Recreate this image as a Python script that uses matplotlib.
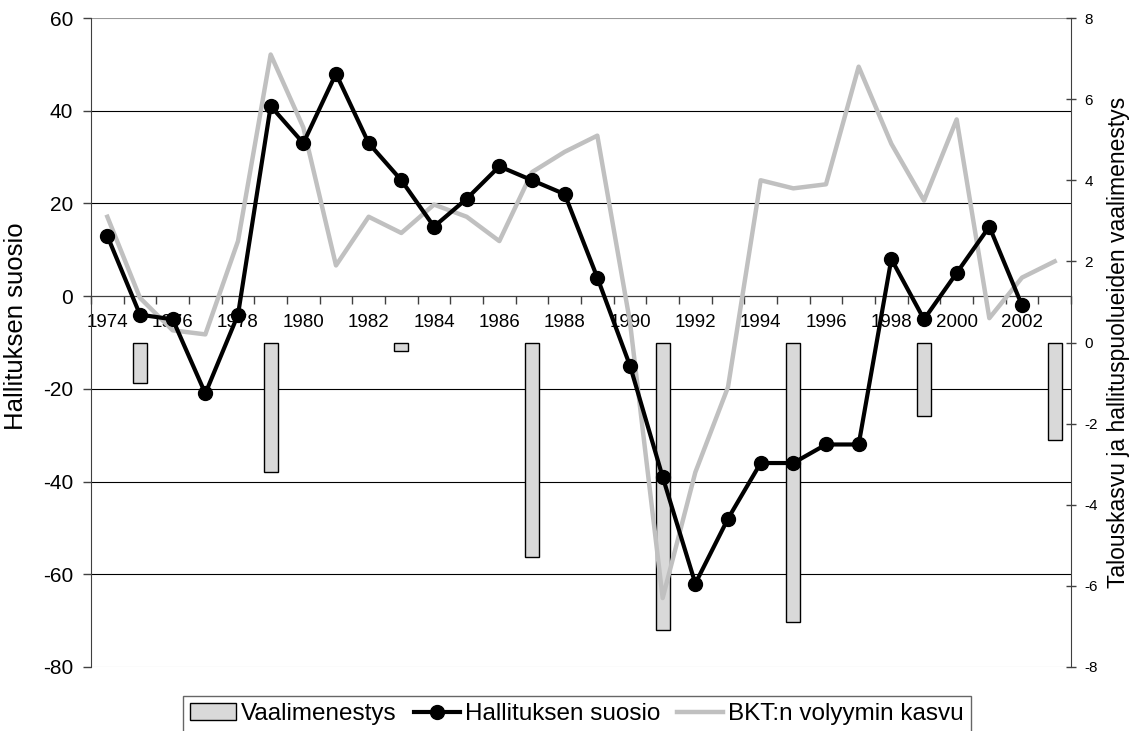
"""Hallituksen suosio, BKT:n kasvu ja hallituspuolueiden vaalimenestys 1974-2003."""

import numpy as np
import matplotlib
matplotlib.use("Agg")
import matplotlib.pyplot as plt
from matplotlib.patches import Patch
from matplotlib.lines import Line2D

plt.rcParams['font.family'] = ['Liberation Sans', 'DejaVu Sans']
plt.rcParams['axes.unicode_minus'] = False

# data
years = list(range(1974, 2004))
suosio_years = list(range(1974, 2003))
suosio = [13, -4, -5, -21, -4, 41, 33, 48, 33, 25, 15, 21, 28, 25, 22, 4,
          -15, -39, -62, -48, -36, -36, -32, -32, 8, -5, 5, 15, -2]
bkt = [3.1, 1.1, 0.3, 0.2, 2.5, 7.1, 5.3, 1.9, 3.1, 2.7, 3.4, 3.1, 2.5, 4.2,
       4.7, 5.1, 0.5, -6.3, -3.2, -1.1, 4.0, 3.8, 3.9, 6.8, 4.9, 3.5, 5.5,
       0.6, 1.6, 2.0]
vaali_years = [1975, 1979, 1983, 1987, 1991, 1995, 1999, 2003]
vaali = [-1.0, -3.2, -0.2, -5.3, -7.1, -6.9, -1.8, -2.4]
year_labels = list(range(1974, 2003, 2))

W, H = 1138, 731
fig = plt.figure(figsize=(W / 100, H / 100), dpi=100)
ax = fig.add_axes([91 / W, 1 - 667 / H, 980 / W, 649 / H])   # grid + left scale
ax2 = ax.twinx()                                              # bars + gray line
ax3 = ax.twinx()                                              # black line on top

# --- base axes: grid, x axis at 0, left ticks
ax.set_xlim(1973.5, 2003.5)
ax.set_ylim(-80, 60)
ax.set_yticks(np.arange(-80, 61, 20))
ax.tick_params(axis='y', direction='out', length=6, width=1, color='#404040',
               labelsize=15, pad=7)
ax.yaxis.grid(True, color='black', linewidth=0.8)
gl = ax.get_ygridlines()
gl[0].set_color('#c0c0c0')
gl[-1].set_color('#999999')
ax.set_axisbelow(True)

ax.set_xticks(np.arange(1973.5, 2004, 1))
ax.set_xticklabels([])
ax.set_xticks(year_labels, minor=True)
ax.set_xticklabels([str(y) for y in year_labels], minor=True)
ax.tick_params(axis='x', which='major', direction='out', length=6, width=1,
               color='#404040')
ax.tick_params(axis='x', which='minor', length=0, labelsize=13.5, pad=13)

ax.spines['bottom'].set_position(('data', 0))
ax.spines['bottom'].set_color('#404040')
ax.spines['left'].set_color('#404040')
ax.spines['top'].set_visible(False)
ax.spines['right'].set_visible(False)

# --- right scale: bars and GDP growth
ax2.bar(vaali_years, vaali, width=0.43, color='#d9d9d9', edgecolor='black',
        linewidth=1, zorder=2)
ax2.plot(years, bkt, color='#c0c0c0', linewidth=3.2, zorder=3)
ax2.set_ylim(-8, 8)
ax2.set_yticks(np.arange(-8, 9, 2))
ax2.tick_params(axis='y', direction='inout', length=7, width=1,
                color='#404040', labelsize=11, pad=6)
for side in ['left', 'top', 'bottom']:
    ax2.spines[side].set_visible(False)
ax2.spines['right'].set_color('#404040')

# --- left scale again: government popularity on top
ax3.plot(suosio_years, suosio, color='black', linewidth=3, marker='o',
         markersize=10)
ax3.set_ylim(-80, 60)
ax3.yaxis.set_visible(False)
for side in ax3.spines:
    ax3.spines[side].set_visible(False)
ax3.set_xlim(1973.5, 2003.5)

fig.text(16 / W, 1 - 326 / H, "Hallituksen suosio", rotation=90,
         ha='center', va='center', fontsize=18.5)
fig.text(1118 / W, 1 - 342 / H, "Talouskasvu ja hallituspuolueiden vaalimenestys",
         rotation=90, ha='center', va='center', fontsize=16.5)

handles = [
    Patch(facecolor='#d9d9d9', edgecolor='black', linewidth=1),
    Line2D([], [], color='black', linewidth=3, marker='o', markersize=10),
    Line2D([], [], color='#c0c0c0', linewidth=3.2),
]
labels = ["Vaalimenestys", "Hallituksen suosio", "BKT:n volyymin kasvu"]
leg = fig.legend(handles, labels, loc='upper center',
                 bbox_to_anchor=(577 / W, 1 - 696 / H), ncol=3, frameon=True,
                 fancybox=False, edgecolor='#404040', fontsize=17.5,
                 handlelength=1.9, handletextpad=0.2, columnspacing=0.7,
                 borderpad=0.3, borderaxespad=0)
leg.get_frame().set_linewidth(1)

fig.savefig("out.png", dpi=100)
